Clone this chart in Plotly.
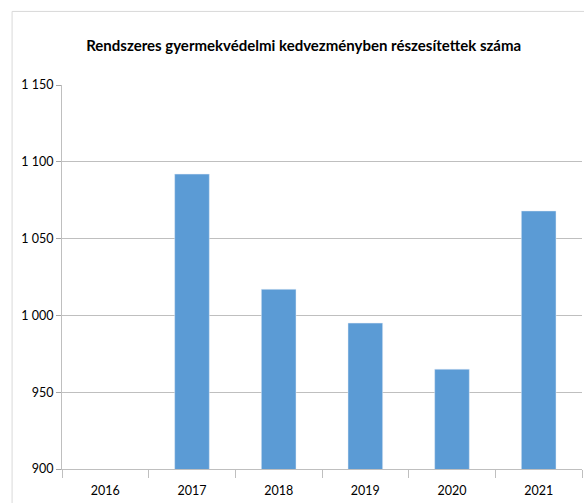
import plotly.graph_objects as go

years = ["2016", "2017", "2018", "2019", "2020", "2021"]
values = [None, 1092, 1017, 995, 965, 1068]
y_ticks = [900, 950, 1000, 1050, 1100, 1150]

fig = go.Figure(go.Bar(x=years, y=values, marker_color="#5B9BD5", width=0.4, hoverinfo="skip"))

font_fam = "Lato, Open Sans, sans-serif"
fig.update_layout(
    width=584, height=503,
    margin=dict(l=62, r=2, t=85, b=34),
    plot_bgcolor="white", paper_bgcolor="white",
    separators=", ",
    showlegend=False,
    title=dict(text="<b>Rendszeres gyermekvédelmi kedvezményben részesítettek száma</b>",
               x=0.52, xanchor="center", y=0.91, yanchor="middle",
               font=dict(family=font_fam, size=15, color="#000000")),
    font=dict(family=font_fam, size=12, color="#000000"),
)
fig.update_yaxes(range=[900, 1150], tickvals=y_ticks, tickformat=",",
                 showgrid=True, gridcolor="#BFBFBF", gridwidth=1,
                 showline=True, linecolor="#BFBFBF", linewidth=1,
                 ticks="outside", ticklen=5, tickcolor="#A6A6A6",
                 zeroline=False, tickfont=dict(size=12.5))
fig.update_xaxes(type="category", showline=True, linecolor="#BFBFBF", linewidth=1,
                 ticks="outside", ticklen=8, tickcolor="#BFBFBF", tickson="boundaries",
                 ticklabelstandoff=10,
                 showgrid=False, tickfont=dict(size=12.5))

# outer chart border
fig.add_shape(type="line", xref="paper", yref="paper", x0=-0.096, x1=1.01, y0=1.1916, y1=1.1916,
              line=dict(color="#D9D9D9", width=1))
fig.add_shape(type="line", xref="paper", yref="paper", x0=-0.096, x1=-0.096, y0=1.1916, y1=-0.1,
              line=dict(color="#D9D9D9", width=1))

fig.write_html("out.html", config={"displayModeBar": False},
               post_script="document.body.style.margin='0';")
